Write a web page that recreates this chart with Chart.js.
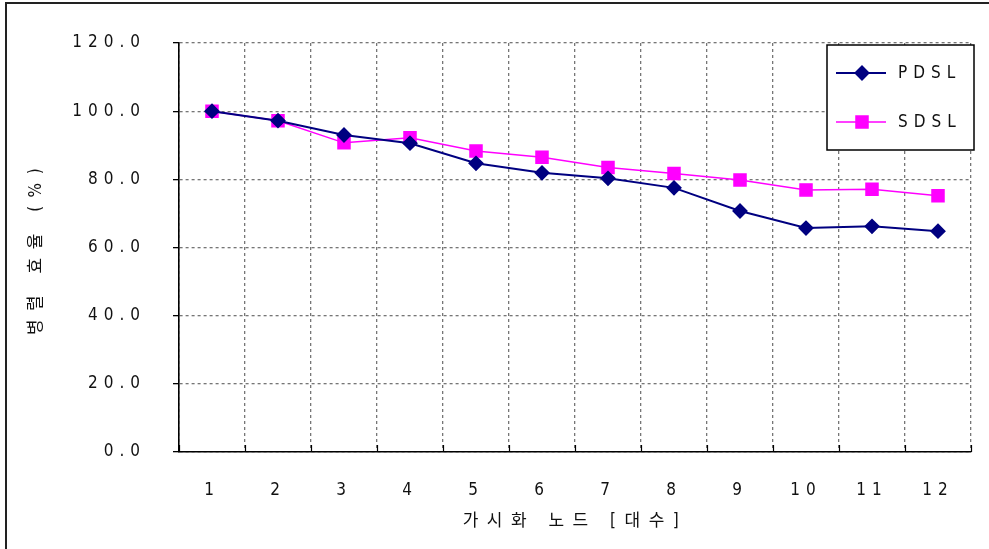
<!DOCTYPE html>
<html>
<head>
<meta charset="utf-8">
<script src="https://cdn.jsdelivr.net/npm/chart.js@4.4.1/dist/chart.umd.min.js"></script>
<style>
  html, body { margin: 0; padding: 0; background: #fff; }
  #wrap { position: relative; width: 989px; height: 549px; overflow: hidden; }
  #frame { position: absolute; left: 5px; top: 2px; right: -10px; bottom: -10px;
           border-left: 2px solid #222; border-top: 2px solid #222; pointer-events: none; }
</style>
</head>
<body>
<div id="wrap">
  <canvas id="myChart" width="989" height="549"></canvas>
  <div id="frame"></div>
</div>
<script>
// data
const nodes = ['1', '2', '3', '4', '5', '6', '7', '8', '9', '10', '11', '12'];
const pdsl = [100.0, 97.2, 93.0, 90.6, 84.7, 81.9, 80.3, 77.5, 70.7, 65.7, 66.2, 64.8];
const sdsl = [100.0, 97.2, 90.7, 92.2, 88.3, 86.5, 83.5, 81.7, 79.8, 76.9, 77.1, 75.2];
const yTickLabels = ['0.0', '20.0', '40.0', '60.0', '80.0', '100.0', '120.0'];
const xTitle = '가시화 노드 [대수]';
const yTitle = '병렬 효율 (%)';

const FONT = "'Liberation Sans Narrow', 'DejaVu Sans Condensed', 'Noto Sans CJK KR', sans-serif";

const ctx = document.getElementById('myChart');
const c2d = ctx.getContext('2d');

// old bitmap-style charts have wide letter spacing
const rawFill = c2d.fillText.bind(c2d);
c2d.fillText = function (t, x, y, w) {
  c2d.letterSpacing = /[가-힣]/.test(t) ? '8.5px' : '6px';
  if (w === undefined) rawFill(t, x, y); else rawFill(t, x, y, w);
};

const boxLegend = {
  id: 'boxLegend',
  afterDraw(chart) {
    const g = chart.ctx;
    const area = chart.chartArea;
    const right = area.right + 3, top = area.top + 2;
    const w = 147, h = 105;
    g.save();
    g.fillStyle = '#fff';
    g.fillRect(right - w, top, w, h);
    g.strokeStyle = '#000';
    g.lineWidth = 1.5;
    g.strokeRect(right - w, top, w, h);
    chart.data.datasets.forEach((ds, i) => {
      const y = top + 28 + i * 49;
      const x0 = right - w + 9;
      g.strokeStyle = ds.borderColor;
      g.lineWidth = ds.borderWidth;
      g.beginPath();
      g.moveTo(x0, y);
      g.lineTo(x0 + 50, y);
      g.stroke();
      g.fillStyle = ds.pointBackgroundColor;
      g.strokeStyle = ds.pointBorderColor;
      Chart.helpers.drawPoint(g, { pointStyle: ds.pointStyle, radius: ds.pointRadius, rotation: 0, borderWidth: 1 }, x0 + 26, y);
      g.fillStyle = '#111';
      g.font = '17px ' + FONT;
      g.textAlign = 'left';
      g.textBaseline = 'middle';
      g.fillText(ds.label, x0 + 62, y + 1);
    });
    g.restore();
  }
};

// small tick marks pointing up from the x axis at category boundaries
const xInnerTicks = {
  id: 'xInnerTicks',
  afterDatasetsDraw(chart) {
    const g = chart.ctx;
    const xs = chart.scales.x;
    const bottom = chart.chartArea.bottom;
    g.save();
    g.strokeStyle = '#000';
    g.lineWidth = 1.2;
    for (let i = 0; i <= nodes.length; i++) {
      const px = Math.round(xs.getPixelForValue(i - 0.5)) + 0.5;
      g.beginPath();
      g.moveTo(px, bottom);
      g.lineTo(px, bottom - 7);
      g.stroke();
    }
    g.restore();
  }
};

const myChart = new Chart(ctx, {
  type: 'line',
  data: {
    labels: nodes,
    datasets: [{
      label: 'PDSL',
      data: pdsl,
      borderColor: '#000080',
      borderWidth: 2,
      pointStyle: 'rectRot',
      pointRadius: 6.5,
      pointBackgroundColor: '#000080',
      pointBorderColor: '#000080',
      tension: 0
    }, {
      label: 'SDSL',
      data: sdsl,
      borderColor: '#ff00ff',
      borderWidth: 1.5,
      pointStyle: 'rect',
      pointRadius: 8.5,
      pointBackgroundColor: '#ff00ff',
      pointBorderColor: '#ff00ff',
      tension: 0
    }]
  },
  options: {
    responsive: false,
    animation: false,
    devicePixelRatio: 1,
    layout: { padding: { left: 0, top: 43, right: 18, bottom: 0 } },
    plugins: {
      legend: { display: false },
      tooltip: { enabled: false }
    },
    scales: {
      x: {
        offset: true,
        afterFit: (s) => { s.height = 97; },
        grid: { color: '#767676', lineWidth: 1.3, drawTicks: false, offset: true },
        border: { color: '#000', width: 1.6, dash: [3, 3] },
        ticks: { color: '#111', font: { family: FONT, size: 17 }, padding: 28, maxRotation: 0, autoSkip: false },
        title: { display: true, text: xTitle, color: '#111', font: { family: FONT, size: 17 }, padding: { top: 0, bottom: 17 } }
      },
      y: {
        min: 0,
        max: 120,
        afterFit: (s) => { s.width = 179; },
        grid: { color: '#767676', lineWidth: 1.3, tickLength: 6, tickColor: '#000', tickBorderDash: [] },
        border: { color: '#000', width: 1.6, dash: [3, 3] },
        ticks: {
          stepSize: 20,
          color: '#111',
          font: { family: FONT, size: 17 },
          padding: 27,
          callback: (v, i) => yTickLabels[i]
        },
        title: { display: true, text: yTitle, color: '#111', font: { family: FONT, size: 17 }, padding: { top: 26, bottom: 0 } }
      }
    }
  },
  plugins: [boxLegend, xInnerTicks]
});
</script>
</body>
</html>
